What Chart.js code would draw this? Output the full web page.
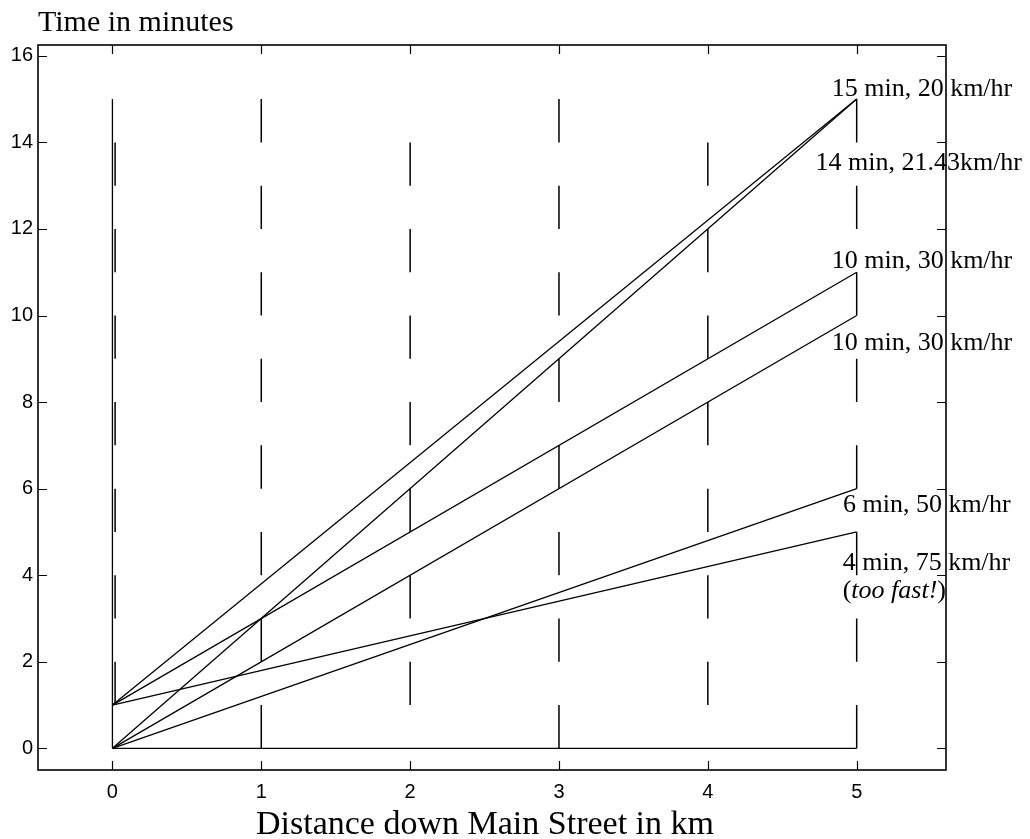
<!DOCTYPE html>
<html><head><meta charset="utf-8">
<script src="https://cdn.jsdelivr.net/npm/chart.js@4/dist/chart.umd.min.js"></script>
<style>html,body{margin:0;padding:0;background:#fff;} canvas{display:block;}</style>
</head><body>
<canvas id="c" width="1030" height="839"></canvas>
<script>
// ---- data ----
const xTicks = [0, 1, 2, 3, 4, 5];
const yTicks = [0, 2, 4, 6, 8, 10, 12, 14, 16];
const routeDepart = [0, 1, 1, 0, 0, 1];
const routeArrive = [15, 15, 11, 10, 6, 5];
const routeFromKm = 0;
const routeToKm = 5;
const routeLabels = ["15 min, 20 km/hr", "14 min, 21.43km/hr", "10 min, 30 km/hr", "10 min, 30 km/hr", "6 min, 50 km/hr", "4 min, 75 km/hr"];
const tooFastNote = "too fast!";
const lightKm = [0, 1, 2, 3, 4, 5];
const redLight0 = [[1,2],[3,4],[5,6],[7,8],[9,10],[11,12],[13,14]];
const redLight1 = [[0,1],[2,3],[4,5],[6,7],[8,9],[10,11],[12,13],[14,15]];
const redLight2 = [[1,2],[3,4],[5,6],[7,8],[9,10],[11,12],[13,14]];
const redLight3 = [[0,1],[2,3],[4,5],[6,7],[8,9],[10,11],[12,13],[14,15]];
const redLight4 = [[1,2],[3,4],[5,6],[7,8],[9,10],[11,12],[13,14]];
const redLight5 = [[0,1],[2,3],[4,5],[6,7],[8,9],[10,11],[12,13],[14,15]];
const redLights = [redLight0, redLight1, redLight2, redLight3, redLight4, redLight5];
const startPostTime = [0, 15];
const streetKm = [0, 5];
const xTitle = "Distance down Main Street in km";
const yTitle = "Time in minutes";

// ---- datasets ----
const base = {showLine: true, borderColor: '#000', backgroundColor: '#000', pointRadius: 0, borderWidth: 1.3, tension: 0, spanGaps: false};
const datasets = [];
routeDepart.forEach((d, i) => {
  datasets.push(Object.assign({}, base, {data: [{x: routeFromKm, y: d}, {x: routeToKm, y: routeArrive[i]}]}));
});
datasets.push(Object.assign({}, base, {data: [{x: lightKm[0], y: startPostTime[0]}, {x: lightKm[0], y: startPostTime[1]}]}));
datasets.push(Object.assign({}, base, {data: [{x: streetKm[0], y: 0}, {x: streetKm[1], y: 0}]}));
redLights.forEach((segs, i) => {
  const xk = lightKm[i] + (i === 0 ? 0.018 : 0);
  const pts = [];
  segs.forEach(s => { pts.push({x: xk, y: s[0]}, {x: xk, y: s[1]}, {x: xk, y: null}); });
  datasets.push(Object.assign({}, base, {data: pts, borderWidth: 1.5}));
});

const labelAnchors = [[4.832, 15.07], [4.723, 13.36], [4.832, 11.09], [4.832, 9.20], [4.908, 5.46], [4.906, 4.12]];
const noteAnchor = [4.906, 3.47];

const framePlugin = {
  id: 'frame',
  beforeDraw(chart) {
    const c = chart.ctx; c.save(); c.fillStyle = '#fff'; c.fillRect(0, 0, chart.width, chart.height); c.restore();
  },
  afterDraw(chart) {
    const c = chart.ctx, a = chart.chartArea, x = chart.scales.x, y = chart.scales.y;
    c.save();
    c.strokeStyle = '#000';
    c.lineWidth = 1.6;
    c.strokeRect(a.left, a.top, a.right - a.left, a.bottom - a.top);
    c.lineWidth = 1.2;
    const L = 9;
    c.beginPath();
    yTicks.forEach(v => { const p = Math.round(y.getPixelForValue(v)) + 0.5; c.moveTo(a.left, p); c.lineTo(a.left + L, p); c.moveTo(a.right, p); c.lineTo(a.right - L, p); });
    xTicks.forEach(v => { const p = Math.round(x.getPixelForValue(v)) + 0.5; c.moveTo(p, a.bottom); c.lineTo(p, a.bottom - L); c.moveTo(p, a.top); c.lineTo(p, a.top + L); });
    c.stroke();
    // route labels
    c.fillStyle = '#000';
    c.textAlign = 'left'; c.textBaseline = 'alphabetic';
    c.font = '26px "Liberation Serif", "Times New Roman", serif';
    routeLabels.forEach((t, i) => {
      c.fillText(t, x.getPixelForValue(labelAnchors[i][0]), y.getPixelForValue(labelAnchors[i][1]));
    });
    let nx = x.getPixelForValue(noteAnchor[0]);
    const ny = y.getPixelForValue(noteAnchor[1]);
    c.fillText('(', nx, ny); nx += c.measureText('(').width;
    c.font = 'italic 26px "Liberation Serif", "Times New Roman", serif';
    c.fillText(tooFastNote, nx, ny); nx += c.measureText(tooFastNote).width;
    c.font = '26px "Liberation Serif", "Times New Roman", serif';
    c.fillText(')', nx, ny);
    // titles
    c.font = '30px "Liberation Serif", "Times New Roman", serif';
    c.fillText(yTitle, 38, 31);
    c.font = '34px "Liberation Serif", "Times New Roman", serif';
    c.textAlign = 'center';
    c.fillText(xTitle, 485, 834);
    c.restore();
  }
};

Chart.defaults.font.family = '"Liberation Sans", Arial, sans-serif';
Chart.defaults.color = '#000';

new Chart(document.getElementById('c'), {
  type: 'scatter',
  data: {datasets},
  options: {
    responsive: false,
    animation: false,
    devicePixelRatio: 1,
    layout: {padding: {top: 45, right: 84, left: 0, bottom: 0}},
    plugins: {legend: {display: false}, tooltip: {enabled: false}},
    scales: {
      x: {
        type: 'linear', min: -0.5, max: 5.6,
        grid: {display: false, drawTicks: false},
        border: {display: false},
        ticks: {font: {size: 20}, padding: 10, color: '#000', maxRotation: 0},
        afterBuildTicks: s => { s.ticks = xTicks.map(v => ({value: v})); },
        afterFit: s => { s.height = 69; }
      },
      y: {
        type: 'linear', min: -0.5, max: 16.25,
        grid: {display: false, drawTicks: false},
        border: {display: false},
        ticks: {font: {size: 20}, padding: 5, color: '#000'},
        afterBuildTicks: s => { s.ticks = yTicks.map(v => ({value: v})); },
        afterFit: s => { s.width = 38; }
      }
    }
  },
  plugins: [framePlugin]
});
</script>
</body></html>
